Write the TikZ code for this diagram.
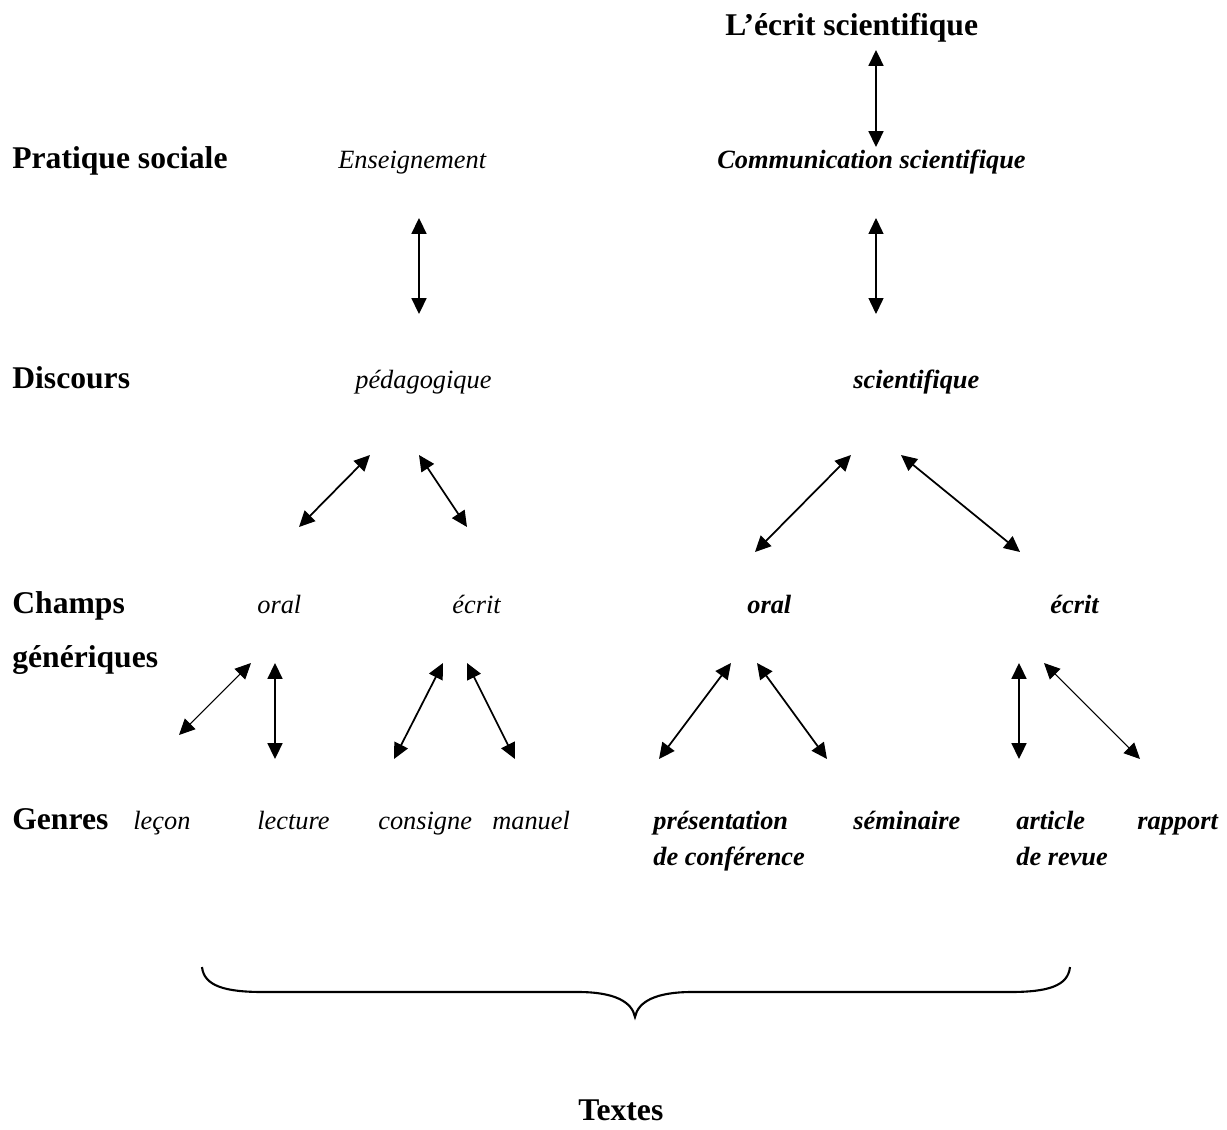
\documentclass[tikz,border=0pt]{standalone}
\usepackage{fontspec}
\setmainfont{Liberation Serif}
\usetikzlibrary{arrows.meta}

\tikzset{
  hd/.style={font=\fontsize{18}{20}\selectfont\bfseries, inner sep=0pt, anchor=base west},
  it/.style={font=\fontsize{15}{20.4}\selectfont\itshape, inner sep=0pt, anchor=base west, align=left},
  bi/.style={it, font=\fontsize{15}{20.4}\selectfont\bfseries\itshape},
  dbl/.style={{Triangle[length=9pt,width=8.5pt]}-{Triangle[length=9pt,width=8.5pt]}, line width=1pt},
  dblthin/.style={dbl, line width=0.6pt},
}

\begin{document}
\begin{tikzpicture}[x=0.02cm,y=-0.02cm]
            \useasboundingbox (0,0) rectangle (1227,1129);
            % row headings
            \node[hd] (pratique) at (12,168) {Pratique sociale};
            \node[hd] (discours) at (12,388) {Discours};
            \node[hd] (champs) at (12,613) {Champs};
            \node[hd] (generiques) at (12,667) {génériques};
            \node[hd] (genres) at (12,829) {Genres};
            \node[hd] (ecritsci) at (725,35) {L’écrit scientifique};
            \node[hd] (textes) at (578,1120) {Textes};
            % pedagogical side
            \node[it] (enseign) at (338,168) {Enseignement};
            \node[it] (peda) at (355,388) {pédagogique};
            \node[it] (oralP) at (257,613) {oral};
            \node[it] (ecritP) at (452,613) {écrit};
            \node[it] (lecon) at (133,829) {leçon};
            \node[it] (lecture) at (257,829) {lecture};
            \node[it] (consigne) at (378,829) {consigne};
            \node[it] (manuel) at (492,829) {manuel};
            % scientific side (two-line nodes sit on their last line)
            \node[bi] (commu) at (717,168) {Communication scientifique};
            \node[bi] (scien) at (853,388) {scientifique};
            \node[bi] (oralS) at (747,613) {oral};
            \node[bi] (ecritS) at (1050,613) {écrit};
            \node[bi] (present) at (653,865) {présentation\\de conférence};
            \node[bi] (seminaire) at (853,829) {séminaire};
            \node[bi] (article) at (1016,865) {article\\de revue};
            \node[bi] (rapport) at (1137,829) {rapport};
            % arrow ends
            \coordinate (ecritsci-s) at (876,50);  \coordinate (commu-n) at (876,147);
            \coordinate (enseign-s) at (419,218);  \coordinate (peda-n) at (419,314);
            \coordinate (commu-s) at (876,218);    \coordinate (scien-n) at (876,314);
            \coordinate (peda-sw) at (370,455);    \coordinate (oralP-n) at (299,527);
            \coordinate (peda-se) at (419,455);    \coordinate (ecritP-n) at (467,527);
            \coordinate (scien-sw) at (851,455);   \coordinate (oralS-n) at (755,552);
            \coordinate (scien-se) at (901,455);   \coordinate (ecritS-n) at (1020,552);
            \coordinate (oralP-sw) at (251,663);   \coordinate (lecon-n) at (179,735);
            \coordinate (oralP-s) at (275,663);    \coordinate (lecture-n) at (275,759);
            \coordinate (ecritP-sw) at (443,663);  \coordinate (consigne-n) at (394,759);
            \coordinate (ecritP-se) at (467,663);  \coordinate (manuel-n) at (515,759);
            \coordinate (oralS-sw) at (731,663);   \coordinate (present-n) at (659,759);
            \coordinate (oralS-se) at (757,663);   \coordinate (seminaire-n) at (827,759);
            \coordinate (ecritS-s) at (1019,663);  \coordinate (article-n) at (1019,759);
            \coordinate (ecritS-se) at (1044,663); \coordinate (rapport-n) at (1140,759);
            % arrows
            \foreach \a/\b in {ecritsci-s/commu-n, enseign-s/peda-n,
                peda-sw/oralP-n, peda-se/ecritP-n, scien-sw/oralS-n, scien-se/ecritS-n,
                oralP-s/lecture-n, ecritP-sw/consigne-n, ecritP-se/manuel-n,
                oralS-sw/present-n, oralS-se/seminaire-n, ecritS-s/article-n}
              \draw[dbl] (\a) -- (\b);
            \draw[dblthin] (commu-s) -- (scien-n);
            \draw[dblthin] (oralP-sw) -- (lecon-n);
            \draw[dblthin] (ecritS-se) -- (rapport-n);
            % brace over the genres
            \draw[line width=1.2pt] (202,967) .. controls (204,986) and (225,992) .. (263,992)
              -- (578,992) .. controls (615,992) and (632,1002) .. (635,1017)
              .. controls (638,1002) and (655,992) .. (692,992) -- (1010,992)
              .. controls (1048,992) and (1068,986) .. (1070,967);
          \end{tikzpicture}
\end{document}
